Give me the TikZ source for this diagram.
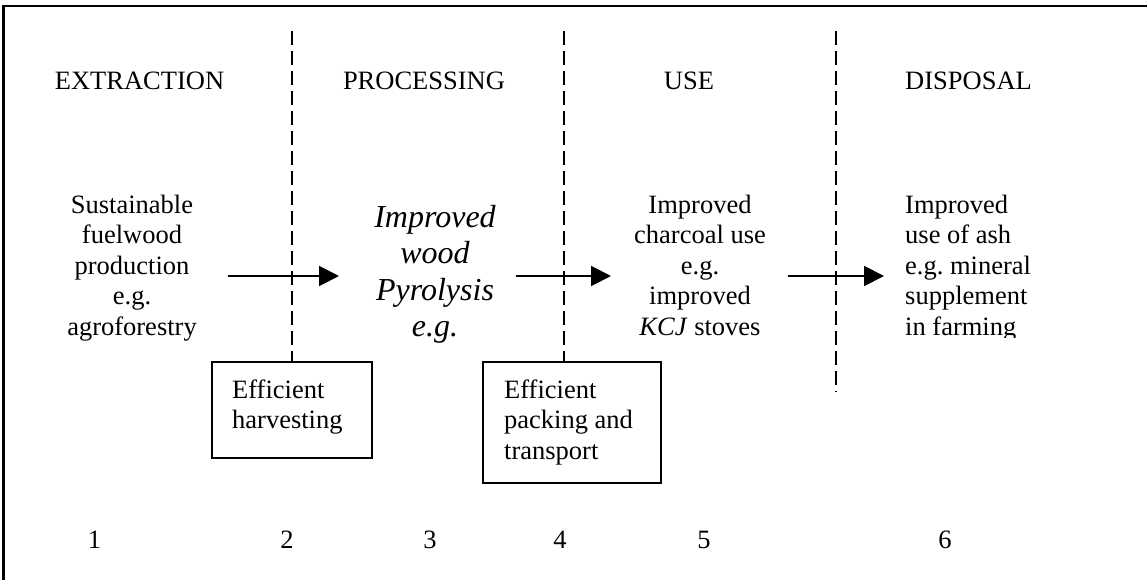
\documentclass[tikz,border=0pt]{standalone}
\usepackage{fontspec}
\setmainfont{Liberation Serif}
\usetikzlibrary{arrows.meta}
\frenchspacing
\begin{document}
\begin{tikzpicture}[x=1pt,y=-1pt,
  txt/.style={inner sep=0pt, font=\fontsize{26.5}{30.5}\selectfont},
  itx/.style={inner sep=0pt, font=\fontsize{32}{36.5}\selectfont\itshape},
  sep/.style={line width=2pt, dash pattern=on 14pt off 6pt},
  flow/.style={line width=2pt, -{Triangle[length=20pt,width=20pt]}},
  boxed/.style={draw, line width=2pt, inner sep=0pt},
  frame/.style={line width=2.5pt}]
\useasboundingbox (0,0) rectangle (1147,580);
% frame (cropped)
\coordinate (fTL) at (3.5,6);
\coordinate (fTR) at (1147,6);
\coordinate (fBL) at (3.5,580);
\draw[frame] (fTR) -- (fTL) -- (fBL);

% headings
\node[txt, anchor=base] (hExt) at (139.5,90) {EXTRACTION};
\node[txt, anchor=base] (hPro) at (424,90) {PROCESSING};
\node[txt, anchor=base] (hUse) at (689,90) {USE};
\node[txt, anchor=base west] (hDis) at (905,90) {DISPOSAL};

% boxes
\node[boxed, minimum width=160pt, minimum height=96pt] (box1) at (292,410) {};
\node[boxed, minimum width=178pt, minimum height=121pt] (box2) at (572,422.5) {};
\node[txt, anchor=base west] (box1t) at (232,398) {\begin{tabular}[t]{@{}l@{}}Efficient\\ harvesting\end{tabular}};
\node[txt, anchor=base west] (box2t) at (504,398) {\begin{tabular}[t]{@{}l@{}}Efficient\\ packing and\\ transport\end{tabular}};

% dashed separators
\coordinate (s1) at (292,31);
\coordinate (s2) at (564,31);
\coordinate (s3) at (836,31);
\coordinate (s3e) at (836,392);
\draw[sep] (s1) -- (box1.north);
\draw[sep] (s2) -- (box2.north -| s2);
\draw[sep] (s3) -- (s3e);

% column texts
\node[txt, anchor=base] (cExt) at (132,213) {\begin{tabular}[t]{@{}c@{}}Sustainable\\ fuelwood\\ production\\ e.g.\\ agroforestry\end{tabular}};
\node[itx, anchor=base] (cPro) at (435,227) {\begin{tabular}[t]{@{}c@{}}Improved\\ wood\\ Pyrolysis\\ e.g.\end{tabular}};
\node[txt, anchor=base] (cUse) at (700,213) {\begin{tabular}[t]{@{}c@{}}Improved\\ charcoal use\\ e.g.\\ improved\\ \textit{KCJ} stoves\end{tabular}};
\begin{scope}
\clip (880,180) rectangle (1100,337.5);
\node[txt, anchor=base west] (cDis) at (905,213) {\begin{tabular}[t]{@{}l@{}}Improved\\ use of ash\\ e.g. mineral\\ supplement\\ in farming\end{tabular}};
\end{scope}

% arrows
\coordinate (a1s) at (228,276);
\coordinate (a1e) at (339,276);
\coordinate (a2s) at (516,276);
\coordinate (a2e) at (611,276);
\coordinate (a3s) at (788,276);
\coordinate (a3e) at (884,276);
\draw[flow] (a1s) -- (a1e);
\draw[flow] (a2s) -- (a2e);
\draw[flow] (a3s) -- (a3e);

% numbers
\node[txt, anchor=base] (n1) at (94.5,548) {1};
\node[txt, anchor=base] (n2) at (287,548) {2};
\node[txt, anchor=base] (n3) at (430,548) {3};
\node[txt, anchor=base] (n4) at (560,548) {4};
\node[txt, anchor=base] (n5) at (704,548) {5};
\node[txt, anchor=base] (n6) at (945,548) {6};
\end{tikzpicture}
\end{document}
